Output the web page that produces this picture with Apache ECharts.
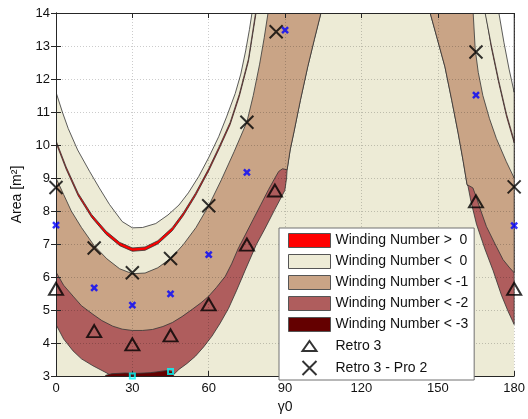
<!DOCTYPE html>
<html>
<head>
<meta charset="utf-8">
<script src="https://cdn.jsdelivr.net/npm/echarts@6/dist/echarts.min.js"></script>
<style>
  html, body { margin: 0; padding: 0; background: #ffffff; }
  #chart { width: 528px; height: 419px; }
</style>
</head>
<body>
<div id="chart"></div>
<script>
// Axis ticks
const gammaTicks = [0, 30, 60, 90, 120, 150, 180];
const areaTicks = [3, 4, 5, 6, 7, 8, 9, 10, 11, 12, 13, 14];

// Legend labels
const LABEL_POS = 'Winding Number >  0';
const LABEL_M0 = 'Winding Number <  0';
const LABEL_M1 = 'Winding Number < -1';
const LABEL_M2 = 'Winding Number < -2';
const LABEL_M3 = 'Winding Number < -3';
const LABEL_ZERO = 'Winding Number = 0';
const LABEL_RETRO = 'Retro 3';
const LABEL_RETRO_PRO = 'Retro 3 - Pro 2';

// Contour boundaries, [gamma0, area] pairs.
// Left lobe: U-shaped contours with their minimum near gamma0 = 30.
// Above the tip of the < -2 band the < -1 band borders the background directly.
const upperEdgeLeft = [[90.8, 9.25], [92, 9.85], [93.5, 10.4], [96, 11.35], [98.9, 12.37], [101.5, 13.2], [104.1, 14]];
const edgeM2Left = [[0, 4.56], [3, 4.12], [6.7, 3.76], [10, 3.52], [14.5, 3.31], [19.7, 3.1], [22, 3.0], [26, 2.9],
  [35, 2.85], [45, 2.95], [48.3, 3.2], [51.5, 3.38], [54.8, 3.6], [58, 3.88], [61.3, 4.21], [64.5, 4.6], [67.8, 5.05],
  [71, 5.6], [74.3, 6.2], [78.7, 6.98], [82, 7.45], [86, 8.05], [89.9, 8.62], [90.6, 9.0]];
const edgeM1Left = [[0, 6.15], [3, 5.75], [6.7, 5.42], [10, 5.13], [14.5, 4.87], [18, 4.68], [22.3, 4.51], [26, 4.42],
  [30, 4.38], [34, 4.38], [37.9, 4.41], [42, 4.5], [45.7, 4.62], [49.5, 4.8], [53.5, 5.02], [57, 5.22], [60, 5.42],
  [63, 5.68], [66.5, 6.02], [69, 6.4], [71.5, 6.85], [74.5, 7.3], [77.5, 7.75], [80.5, 8.2], [83.5, 8.65], [86, 9.0],
  [87.5, 9.2], [89, 9.28]];
const edgeM0Left = [[0, 9.0], [3, 8.5], [6, 8.0], [10, 7.5], [15, 6.95], [20, 6.55], [25, 6.25], [30, 6.1], [35, 6.12],
  [40, 6.28], [45, 6.56], [50, 6.98], [55, 7.5], [60, 8.16], [65, 8.95], [70, 9.8], [75, 10.7], [77.5, 11.5],
  [80, 12.45], [81.8, 13.25], [83.3, 14]];
const edgePosLowLeft = [[0, 10.065], [4, 9.265], [8.7, 8.46], [14, 7.805], [19.7, 7.29], [25, 6.95], [30, 6.78], [35, 6.81],
  [40, 7.0], [45.7, 7.4], [50, 7.855], [54.8, 8.46], [60, 9.215], [64, 9.865], [68.4, 10.615], [72, 11.465], [75.6, 12.535],
  [78.6, 14]];
const edgePosHighLeft = [[0, 10.135], [4, 9.335], [8.7, 8.54], [14, 7.895], [19.7, 7.39], [25, 7.05], [30, 6.88], [35, 6.91],
  [40, 7.1], [45.7, 7.5], [50, 7.945], [54.8, 8.54], [60, 9.285], [64, 9.935], [68.4, 10.685], [72, 11.535], [75.6, 12.605],
  [78.4, 14]];
const edgeZeroLeft = [[0, 11.6], [2.5, 11.0], [4.8, 10.5], [8.5, 9.85], [13.2, 9.2], [17, 8.7], [21, 8.2], [26, 7.68],
  [30, 7.49], [34, 7.5], [39.2, 7.62], [44, 7.88], [48.3, 8.18], [52, 8.55], [56.1, 9.05], [60, 9.62], [63.9, 10.25],
  [67, 10.85], [70.4, 11.56], [72.6, 12.15], [74.5, 12.85], [76, 13.5], [77, 14]];
// Small < -3 pocket at the bottom of the left lobe
const pocketM3 = [[19, 2.85], [19.5, 3.02], [22, 3.07], [27, 3.09], [32, 3.08], [37, 3.1], [41, 3.14], [44, 3.17],
  [46, 3.12], [46.5, 2.85]];

// Right lobe: contours rising towards gamma0 = 180 (listed from the top edge downwards).
const upperEdgeRight = [[147, 14], [149.5, 13.3], [152.8, 12.37], [155.5, 11.35], [158, 10.36], [160, 9.5], [161.5, 8.8]];
const edgeM2Right = [[161.9, 8.74], [163, 8.3], [165.2, 7.6], [168.5, 6.85], [171.7, 6.2], [175, 5.45], [177.5, 4.98],
  [180, 4.56]];
const edgeM1Right = [[163.8, 8.7], [165.2, 8.4], [166.5, 8.1], [169.1, 7.53], [172.5, 7.0], [175.6, 6.53], [178, 6.3],
  [180, 6.13]];
const edgeM0Right = [[163.9, 14], [164.7, 12.9], [165.9, 12.2], [167.7, 11.5], [170.3, 10.8], [173, 10.2], [176.9, 9.5],
  [180, 9.0]];
const edgePosLowRight = [[168.8, 14], [171, 12.965], [174, 11.865], [177, 10.865], [180, 10.065]];
const edgePosHighRight = [[168.6, 14], [171, 13.035], [174, 11.935], [177, 10.935], [180, 10.135]];
const edgeZeroRight = [[174, 14], [176, 13.1], [178, 12.3], [180, 11.6]];

// Markers
const retro3 = [[0, 5.64], [15, 4.36], [30, 3.96], [45, 4.23], [60, 5.17], [75, 6.98], [86, 8.62], [165, 8.29], [180, 5.64]];
const retro3Pro2 = [[0, 8.71], [15, 6.88], [30, 6.13], [45, 6.56], [60, 8.16], [75, 10.69], [86.5, 13.43], [165, 12.82], [180, 8.73]];
const blueCross = [[0, 7.57], [15, 5.67], [30, 5.15], [45, 5.49], [60, 6.68], [75, 9.17], [90, 13.48], [165, 11.51], [180, 7.56]];
const cyanSquare = [[30, 3.0], [45, 3.14]];

// Styling
const FONT = '"Liberation Sans", Arial, Helvetica, sans-serif';
const INK = '#262626';
const OUTLINE = '#333333';
const COLOR_POS = '#FF0000';
const COLOR_M0 = '#EDEBD6';
const COLOR_M1 = '#C9A486';
const COLOR_M2 = '#AF5D5D';
const COLOR_M3 = '#640000';
const COLOR_ZERO = '#FFFFFF';

const xMin = gammaTicks[0], xMax = gammaTicks[gammaTicks.length - 1];
const yMin = areaTicks[0], yMax = areaTicks[areaTicks.length - 1];

// Close a contour over the top of the plot so the region on its inner side is filled.
function closeOverTop(curve) {
  const first = curve[0], last = curve[curve.length - 1];
  return curve.concat([[last[0], yMax + 1], [first[0], yMax + 1]]);
}

function layer(name, color, shapes, outlined) {
  return {
    type: 'custom',
    name: name,
    coordinateSystem: 'cartesian2d',
    clip: true,
    silent: true,
    z: 1,
    itemStyle: { color: color, borderColor: OUTLINE, borderWidth: 1 },
    data: shapes.map(function (s, i) { return i; }),
    renderItem: function (params, api) {
      const pts = shapes[params.dataIndex].map(function (p) { return api.coord(p); });
      return {
        type: 'polygon',
        shape: { points: pts },
        style: { fill: color, stroke: outlined ? OUTLINE : null, lineWidth: 0.8 }
      };
    }
  };
}

const plotRect = [[xMin, yMin], [xMax, yMin], [xMax, yMax], [xMin, yMax]];

const series = [
  layer(LABEL_M0, COLOR_M0, [plotRect], false),
  layer(LABEL_M2, COLOR_M2, [closeOverTop(edgeM2Left.concat(upperEdgeLeft)), closeOverTop(upperEdgeRight.concat(edgeM2Right))], true),
  layer(LABEL_M1, COLOR_M1, [closeOverTop(edgeM1Left.concat(upperEdgeLeft)), closeOverTop(upperEdgeRight.concat(edgeM1Right))], true),
  layer(LABEL_M0, COLOR_M0, [closeOverTop(edgeM0Left), closeOverTop(edgeM0Right)], true),
  layer(LABEL_POS, COLOR_POS, [closeOverTop(edgePosLowLeft), closeOverTop(edgePosLowRight)], true),
  layer(LABEL_M0, COLOR_M0, [closeOverTop(edgePosHighLeft), closeOverTop(edgePosHighRight)], true),
  layer(LABEL_ZERO, COLOR_ZERO, [closeOverTop(edgeZeroLeft), closeOverTop(edgeZeroRight)], true),
  layer(LABEL_M3, COLOR_M3, [pocketM3], true),
  {
    type: 'scatter', name: LABEL_RETRO, z: 5, data: retro3,
    symbol: 'triangle', symbolSize: [14, 12],
    itemStyle: { color: 'transparent', borderColor: '#000000', borderWidth: 2 },
    emphasis: { disabled: true }
  },
  {
    type: 'scatter', name: LABEL_RETRO_PRO, z: 5, data: retro3Pro2,
    symbol: 'path://M0,0L10,10M10,0L0,10', symbolSize: 13,
    itemStyle: { color: 'transparent', borderColor: '#000000', borderWidth: 2 },
    emphasis: { disabled: true }
  },
  {
    type: 'scatter', name: 'blue', z: 5, data: blueCross,
    symbol: 'path://M0,0L10,10M10,0L0,10', symbolSize: 6,
    itemStyle: { color: 'transparent', borderColor: '#0000FF', borderWidth: 2.5 },
    emphasis: { disabled: true }
  },
  {
    type: 'scatter', name: 'cyan', z: 5, data: cyanSquare,
    symbol: 'rect', symbolSize: 5,
    itemStyle: { color: 'transparent', borderColor: '#00FFFF', borderWidth: 2 },
    emphasis: { disabled: true }
  }
];

function boxAxis(position, min, max, step, isMain, extra) {
  return Object.assign({
    type: 'value', position: position, min: min, max: max, interval: step, z: 3,
    axisLine: { show: true, lineStyle: { color: INK, width: 1 } },
    axisTick: { show: true, inside: true, length: 5, lineStyle: { color: INK, width: 1 } },
    axisLabel: { show: isMain, color: '#111111', fontSize: 13, fontFamily: FONT, margin: 6 },
    splitLine: { show: isMain, lineStyle: { color: 'rgba(0,0,0,0.2)', width: 1, type: [1, 2] } }
  }, extra || {});
}

const chart = echarts.init(document.getElementById('chart'), null, { renderer: 'canvas' });
chart.setOption({
  animation: false,
  backgroundColor: '#ffffff',
  grid: { left: 56, right: 11, top: 13, bottom: 42, containLabel: false },
  xAxis: [
    boxAxis('bottom', xMin, xMax, gammaTicks[1] - gammaTicks[0], true, {
      name: 'γ0', nameLocation: 'middle', nameGap: 24,
      nameTextStyle: { color: '#111111', fontSize: 14, fontFamily: FONT }
    }),
    boxAxis('top', xMin, xMax, gammaTicks[1] - gammaTicks[0], false)
  ],
  yAxis: [
    boxAxis('left', yMin, yMax, areaTicks[1] - areaTicks[0], true, {
      name: 'Area [m²]', nameLocation: 'middle', nameGap: 29,
      nameTextStyle: { color: '#111111', fontSize: 14, fontFamily: FONT }
    }),
    boxAxis('right', yMin, yMax, areaTicks[1] - areaTicks[0], false)
  ],
  legend: {
    orient: 'vertical', left: 279, top: 228, z: 10,
    padding: [5, 6, 4, 9], itemGap: 6, itemWidth: 42, itemHeight: 14,
    backgroundColor: '#ffffff', borderColor: '#707070', borderWidth: 1,
    selectedMode: false,
    textStyle: { color: '#111111', fontSize: 14, fontFamily: FONT },
    data: [
      { name: LABEL_POS, icon: 'rect', itemStyle: { borderColor: '#555555', borderWidth: 1 } },
      { name: LABEL_M0, icon: 'rect', itemStyle: { borderColor: '#555555', borderWidth: 1 } },
      { name: LABEL_M1, icon: 'rect', itemStyle: { borderColor: '#555555', borderWidth: 1 } },
      { name: LABEL_M2, icon: 'rect', itemStyle: { borderColor: '#555555', borderWidth: 1 } },
      { name: LABEL_M3, icon: 'rect', itemStyle: { borderColor: '#555555', borderWidth: 1 } },
      { name: LABEL_RETRO, icon: 'path://M0,-2M7,0L14,10L0,10ZM0,12' },
      { name: LABEL_RETRO_PRO, icon: 'path://M0,0L12,12M12,0L0,12' }
    ]
  },
  series: series
});
</script>
</body>
</html>
